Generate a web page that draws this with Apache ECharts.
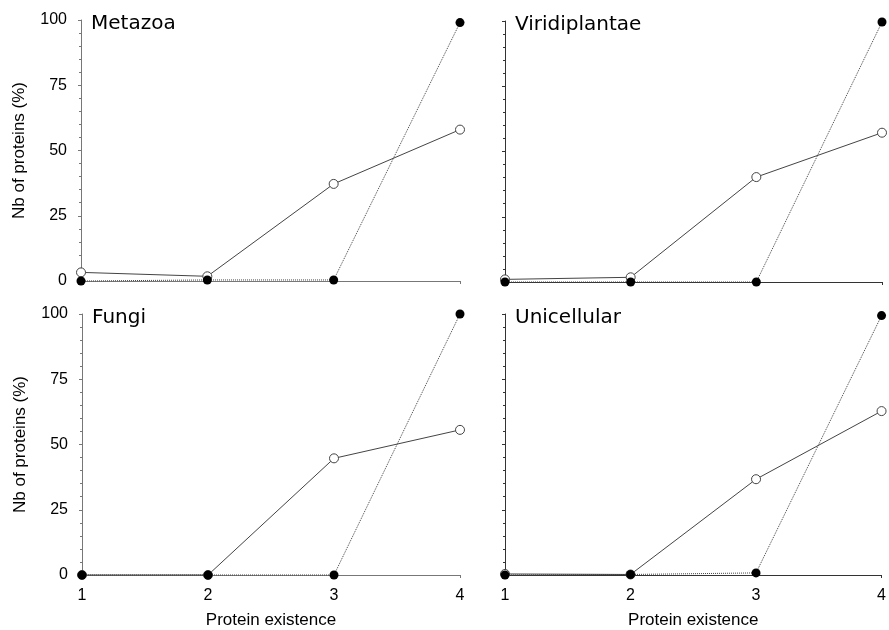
<!DOCTYPE html>
<html>
<head>
<meta charset="utf-8">
<script src="https://cdn.jsdelivr.net/npm/echarts@6/dist/echarts.min.js"></script>
<style>html,body{margin:0;padding:0;background:#fff}#c{width:889px;height:630px}</style>
</head>
<body>
<div id="c"></div>
<script>
const categories = ['1', '2', '3', '4'];
const panelNames = ['Metazoa', 'Viridiplantae', 'Fungi', 'Unicellular'];
const yTicks = [0, 25, 50, 75, 100];
// open circles, solid line
const metazoaOpen = [3.3, 1.8, 37.2, 58.0];
const viridiOpen = [1.0, 1.8, 40.2, 57.2];
const fungiOpen = [0, 0, 44.7, 55.6];
const uniOpen = [0.4, 0.2, 36.7, 62.8];
// filled circles, dotted line
const metazoaFilled = [0, 0.4, 0.4, 99.0];
const viridiFilled = [0, 0, 0, 99.6];
const fungiFilled = [0, 0, 0, 100];
const uniFilled = [0, 0.2, 0.8, 99.4];

const openData = [metazoaOpen, viridiOpen, fungiOpen, uniOpen];
const filledData = [metazoaFilled, viridiFilled, fungiFilled, uniFilled];

const grids = [
  {left: 81, right: 429, top: 20, height: 261},
  {left: 505, right: 7, top: 21, height: 261},
  {left: 82, right: 429, top: 314, height: 261},
  {left: 505, right: 7, top: 314, height: 261}
];
const lineColor = '#444';
const fontFam = '"Liberation Sans", Arial, sans-serif';

const xAxes = [], yAxes = [], series = [], titles = [];
for (let i = 0; i < 4; i++) {
  const bottom = i >= 2, leftCol = i % 2 === 0;
  const axisColor = leftCol ? '#777' : '#333';
  xAxes.push({
    gridIndex: i, type: 'category', data: categories, boundaryGap: false,
    axisLine: {lineStyle: {color: axisColor, width: 1}},
    axisTick: {show: true, interval: (idx) => idx === 3, length: 3, lineStyle: {color: axisColor}},
    axisLabel: {show: bottom, color: '#000', fontSize: 16, fontFamily: fontFam, margin: 13, interval: 0},
    name: bottom ? 'Protein existence' : '',
    nameLocation: 'middle', nameGap: 37,
    nameTextStyle: {color: '#000', fontSize: 17, fontFamily: fontFam},
    splitLine: {show: false}
  });
  yAxes.push({
    gridIndex: i, type: 'value', min: 0, max: 100, interval: 25,
    axisLine: {show: true, lineStyle: {color: axisColor, width: 1}},
    axisTick: {show: true, length: 3, lineStyle: {color: axisColor}},
    minorTick: {show: true, splitNumber: 5, length: 2, lineStyle: {color: axisColor}},
    axisLabel: {show: leftCol, color: '#000', fontSize: 16, fontFamily: fontFam, margin: 14,
      formatter: (v) => yTicks.includes(v) ? String(v) : ''},
    name: leftCol ? 'Nb of proteins (%)' : '',
    nameLocation: 'middle', nameGap: 53, nameRotate: 90,
    nameTextStyle: {color: '#000', fontSize: 17, fontFamily: fontFam},
    splitLine: {show: false}
  });
  series.push({
    type: 'line', xAxisIndex: i, yAxisIndex: i, data: openData[i],
    symbol: 'circle', symbolSize: 9, clip: false,
    lineStyle: {color: lineColor, width: 1, type: 'solid'},
    itemStyle: {color: '#fff', borderColor: '#444', borderWidth: 1},
    z: 2
  });
  series.push({
    type: 'line', xAxisIndex: i, yAxisIndex: i, data: filledData[i],
    symbol: 'circle', symbolSize: 9, clip: false,
    lineStyle: {color: lineColor, width: 1, type: 'dotted'},
    itemStyle: {color: '#000', borderColor: '#000', borderWidth: 0},
    z: 3
  });
  titles.push({
    text: panelNames[i], left: grids[i].left + 10, top: grids[i].top - 6, padding: 0,
    textStyle: {color: '#000', fontSize: 20, fontWeight: 'normal', fontFamily: '"DejaVu Sans", sans-serif'}
  });
}

const chart = echarts.init(document.getElementById('c'), null, {renderer: 'canvas'});
chart.setOption({
  animation: false,
  backgroundColor: '#fff',
  title: titles,
  grid: grids,
  xAxis: xAxes,
  yAxis: yAxes,
  series: series
});
</script>
</body>
</html>
